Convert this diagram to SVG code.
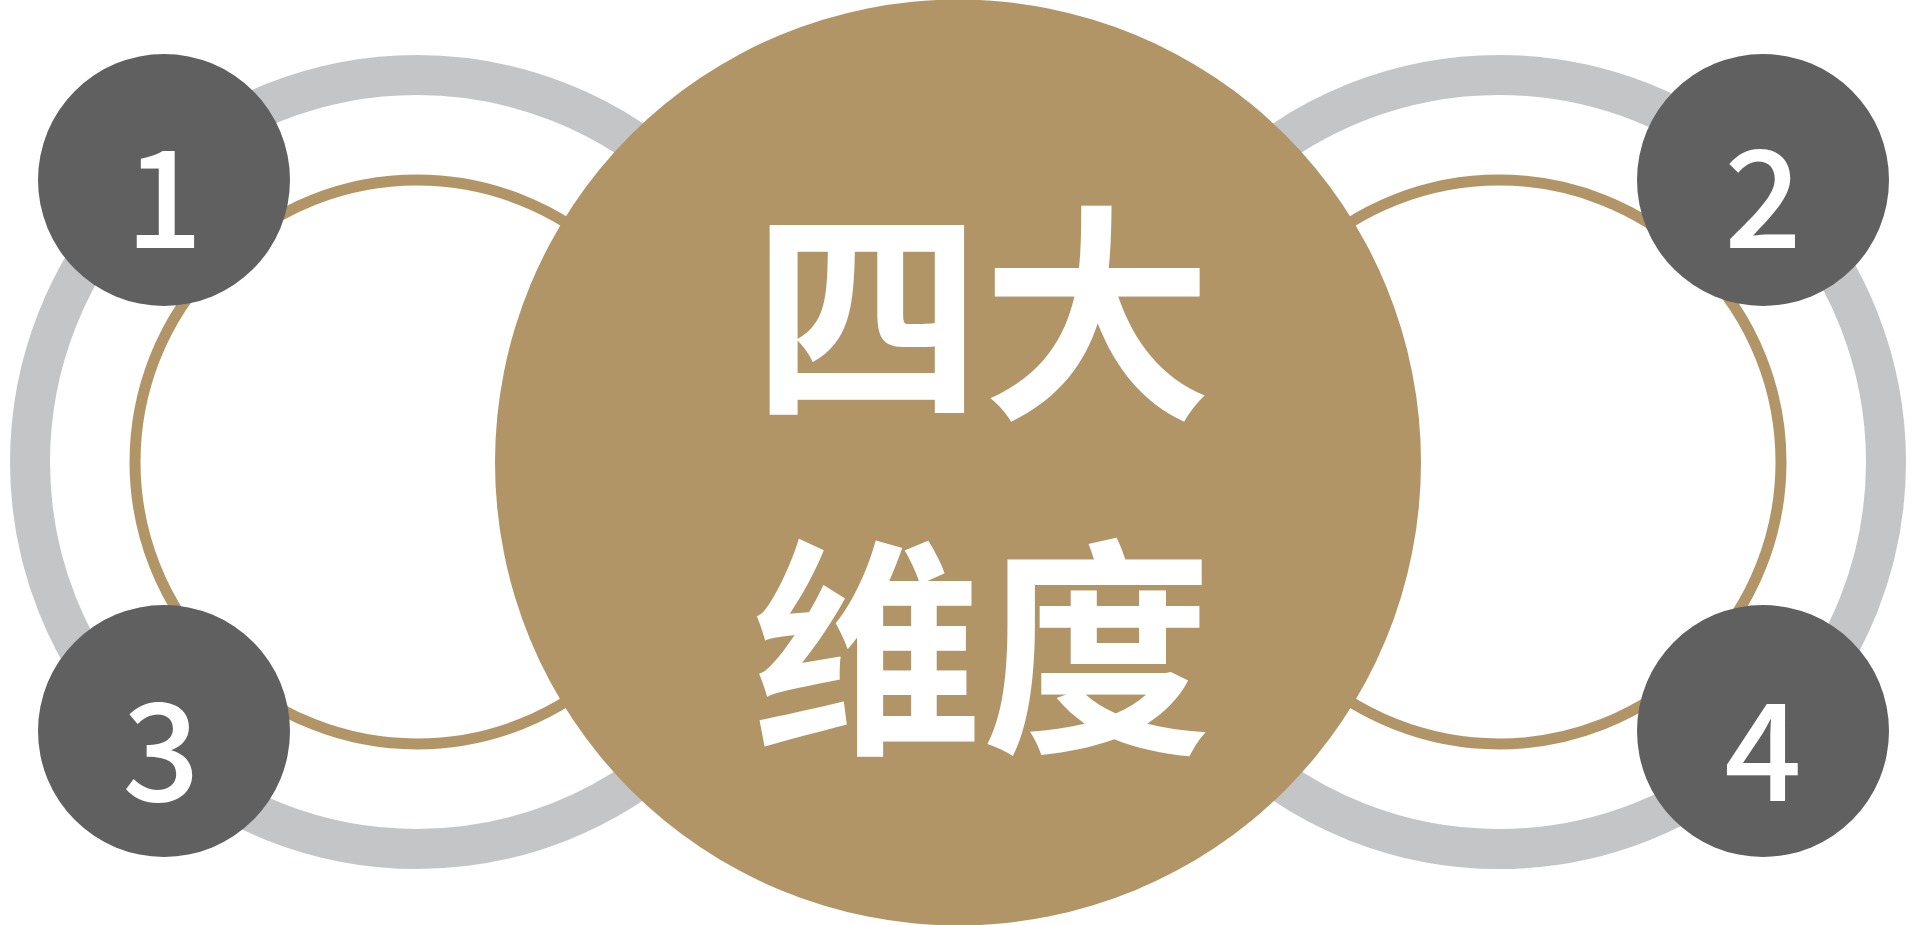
<svg xmlns="http://www.w3.org/2000/svg" width="1916" height="925" viewBox="0 0 1916 925">
<style>
.outer{fill:none;stroke:#C4C5C7;stroke-width:40}
.inner{fill:none;stroke:#B19567;stroke-width:11}
.badge{fill:#606060}
.num{fill:#FFFFFF;font-family:"Noto Sans CJK SC","Noto Sans",sans-serif;font-weight:500;font-size:136px;text-anchor:middle}
.title{fill:#FFFFFF;font-family:"Noto Sans CJK SC",sans-serif;font-weight:700;font-size:230px;text-anchor:middle}
</style>
<rect width="1916" height="925" fill="#FFFFFF"/>
<g id="ring-left">
<circle class="outer" cx="417" cy="462" r="387"/>
<circle class="inner" cx="417" cy="462" r="282"/>
</g>
<g id="ring-right">
<circle class="outer" cx="1499" cy="462" r="387"/>
<circle class="inner" cx="1499" cy="462" r="282"/>
</g>
<g id="center">
<circle cx="958" cy="462.5" r="463" fill="#B19567"/>
<text class="title" x="982" y="401">四大</text>
<text class="title" x="982" y="735">维度</text>
</g>
<g id="badge-1">
<circle class="badge" cx="164" cy="180" r="126"/>
<text class="num" x="164" y="248">1</text>
</g>
<g id="badge-2">
<circle class="badge" cx="1763" cy="180" r="126"/>
<text class="num" x="1763" y="248">2</text>
</g>
<g id="badge-3">
<circle class="badge" cx="164" cy="731" r="126"/>
<text class="num" x="161" y="801">3</text>
</g>
<g id="badge-4">
<circle class="badge" cx="1763" cy="731" r="126"/>
<text class="num" x="1763" y="801">4</text>
</g>
<g id="connectors"/>
</svg>
